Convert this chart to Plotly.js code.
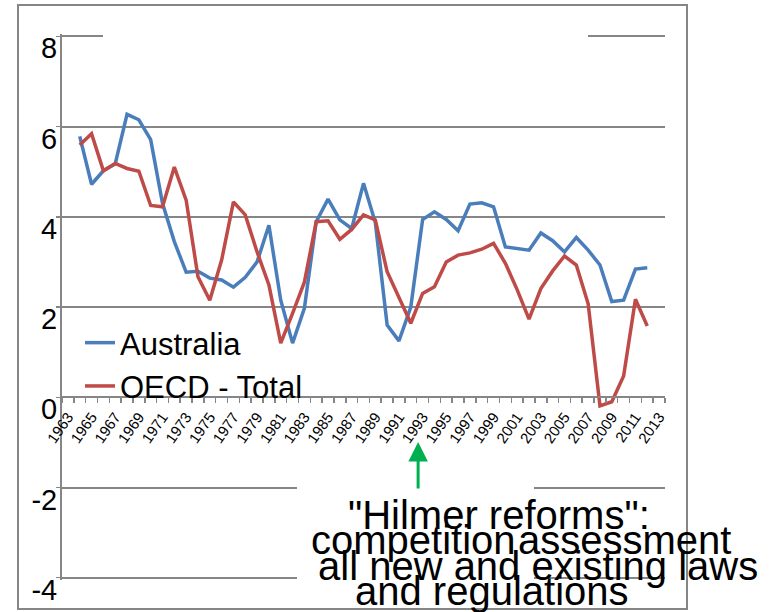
<!DOCTYPE html>
<html>
<head>
<meta charset="utf-8">
<script src="https://cdn.plot.ly/plotly-3.0.1.min.js"></script>
<style>html,body{margin:0;padding:0;background:#fff;}#chart{width:771px;height:612px;}</style>
</head>
<body>
<div id="chart"></div>
<script>
// Data
const years = [1964,1965,1966,1967,1968,1969,1970,1971,1972,1973,1974,1975,1976,1977,1978,1979,1980,1981,1982,1983,1984,1985,1986,1987,1988,1989,1990,1991,1992,1993,1994,1995,1996,1997,1998,1999,2000,2001,2002,2003,2004,2005,2006,2007,2008,2009,2010,2011,2012];
const australia = [5.78,4.72,5.02,5.17,6.27,6.15,5.71,4.30,3.45,2.77,2.79,2.64,2.60,2.44,2.66,3.00,3.81,2.15,1.20,1.97,3.89,4.39,3.93,3.74,4.74,3.87,1.60,1.25,2.00,3.94,4.11,3.94,3.69,4.28,4.31,4.22,3.33,3.30,3.26,3.64,3.47,3.22,3.54,3.26,2.93,2.12,2.15,2.84,2.87];
const oecd = [5.59,5.84,5.02,5.18,5.07,5.01,4.25,4.22,5.10,4.37,2.67,2.15,3.04,4.33,4.04,3.22,2.49,1.20,1.86,2.55,3.89,3.91,3.50,3.72,4.04,3.93,2.78,2.23,1.64,2.30,2.45,3.00,3.15,3.20,3.28,3.41,2.97,2.38,1.73,2.41,2.80,3.13,2.93,2.07,-0.19,-0.10,0.47,2.17,1.58];
const seriesNames = ["Australia", "OECD - Total"];
const xTickYears = [1963,1965,1967,1969,1971,1973,1975,1977,1979,1981,1983,1985,1987,1989,1991,1993,1995,1997,1999,2001,2003,2005,2007,2009,2011,2013];
const yTicks = [-4,-2,0,2,4,6,8];
const noteLines = ['"Hilmer reforms":', 'competition', 'assessment', 'all new and existing laws', 'and regulations'];
const reformYear = 1992.62;

// layout helpers (pixel -> paper within plot area)
const yLo = -4.05, yHi = 8.05;
const L = 62, R = 665, T = 34, B = 580;
const px = v => (v - L) / (R - L);
const py = v => (B - v) / (B - T);
const FONT = 'Liberation Sans, Arial, sans-serif';
const GRID = '#868686';

const traces = [
  {x: years, y: australia, name: seriesNames[0], type: 'scatter', mode: 'lines',
   line: {color: '#4a7ebb', width: 3.5}},
  {x: years, y: oecd, name: seriesNames[1], type: 'scatter', mode: 'lines',
   line: {color: '#be4b48', width: 3.5}}
];

const noteFont = {family: FONT, size: 40, color: '#000'};
const layout = {
  width: 771, height: 612,
  margin: {l: L, r: 771 - R, t: T, b: 612 - B, pad: 0},
  paper_bgcolor: '#fff', plot_bgcolor: 'rgba(0,0,0,0)',
  font: {family: FONT, color: '#000'},
  showlegend: true,
  legend: {x: px(80), y: py(316), xanchor: 'left', yanchor: 'top',
           bgcolor: 'rgba(0,0,0,0)', font: {family: FONT, size: 31, color: '#000'},
           itemwidth: 30, tracegroupgap: 0},
  xaxis: {
    range: [1962.5, 2013.5], anchor: 'free', position: (0 - yLo) / (yHi - yLo),
    tickmode: 'array', tickvals: xTickYears, ticktext: xTickYears.map(String),
    ticks: '', tickangle: -55, tickfont: {family: FONT, size: 15, color: '#000'},
    ticklabelstandoff: 4,
    showline: true, linecolor: GRID, linewidth: 2, showgrid: false, zeroline: false,
    minor: {ticks: 'outside', tickmode: 'linear', tick0: 1962.5, dtick: 1, ticklen: 5,
            tickcolor: GRID, tickwidth: 1.5, showgrid: false}
  },
  yaxis: {
    range: [yLo, yHi], tickmode: 'array', tickvals: yTicks, ticktext: yTicks.map(String),
    ticks: 'outside', ticklen: 4, tickcolor: GRID, tickwidth: 1.5,
    tickfont: {family: FONT, size: 29, color: '#000'}, ticklabelshift: 12, ticklabelstandoff: -7,
    showline: true, linecolor: GRID, linewidth: 2,
    showgrid: true, gridcolor: GRID, gridwidth: 2, zeroline: false
  },
  shapes: [
    {type: 'rect', xref: 'paper', yref: 'paper', x0: px(103), x1: px(588), y0: py(42), y1: py(29),
     fillcolor: '#fff', line: {width: 0}, layer: 'above'},
    {type: 'rect', xref: 'paper', yref: 'paper', x0: px(297), x1: px(534), y0: py(586), y1: py(480),
     fillcolor: '#fff', line: {width: 0}, layer: 'above'},
    {type: 'rect', xref: 'paper', yref: 'paper', x0: px(18), x1: px(687), y0: py(609), y1: py(5),
     fillcolor: 'rgba(0,0,0,0)', line: {color: GRID, width: 2}, layer: 'above'}
  ],
  annotations: [
    {xref: 'x', yref: 'y', x: reformYear, y: -0.99, text: '', showarrow: true,
     ax: 0, ay: 48, arrowhead: 2, arrowsize: 1.3, arrowwidth: 3, arrowcolor: '#00b050'},
    {xref: 'paper', yref: 'paper', x: px(346), y: py(515), xanchor: 'left', yanchor: 'middle',
     text: noteLines[0], showarrow: false, font: noteFont},
    {xref: 'paper', yref: 'paper', x: px(309), y: py(540), xanchor: 'left', yanchor: 'middle',
     text: noteLines[1], showarrow: false, font: noteFont},
    {xref: 'paper', yref: 'paper', x: px(516), y: py(540), xanchor: 'left', yanchor: 'middle',
     text: noteLines[2], showarrow: false, font: noteFont},
    {xref: 'paper', yref: 'paper', x: px(316), y: py(566), xanchor: 'left', yanchor: 'middle',
     text: noteLines[3], showarrow: false, font: noteFont},
    {xref: 'paper', yref: 'paper', x: px(353), y: py(591), xanchor: 'left', yanchor: 'middle',
     text: noteLines[4], showarrow: false, font: noteFont}
  ]
};

Plotly.newPlot('chart', traces, layout, {displayModeBar: false, staticPlot: true});
</script>
</body>
</html>
